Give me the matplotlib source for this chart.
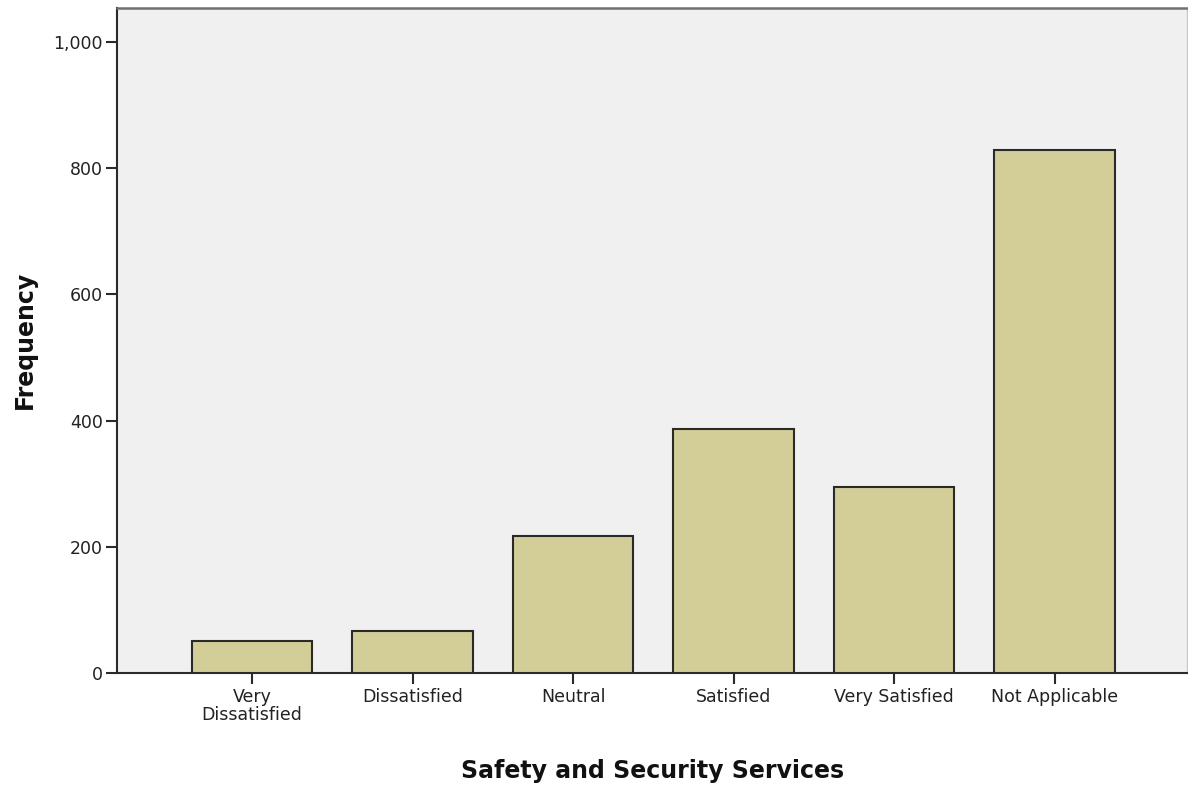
import matplotlib
matplotlib.use("Agg")
import matplotlib.pyplot as plt
from matplotlib.ticker import FuncFormatter

categories = ["Very\nDissatisfied", "Dissatisfied", "Neutral", "Satisfied",
              "Very Satisfied", "Not Applicable"]
frequencies = [50, 67, 217, 387, 295, 829]
y_ticks = [0, 200, 400, 600, 800, 1000]

plt.rcParams['font.family'] = ['DejaVu Sans']

fig = plt.figure(figsize=(11.88, 7.91), dpi=100)
ax = fig.add_axes([117/1188, 1 - 673/791, (1187-117)/1188, (673-8)/791])
ax.set_facecolor('#F0F0F0')

x = list(range(len(categories)))
ax.bar(x, frequencies, width=0.75, color='#D3CE97', edgecolor='#2a2a2a',
       linewidth=1.5, zorder=3)

ax.set_xlim(-0.841, 5.825)
ax.set_ylim(0, 1054)
ax.set_yticks(y_ticks)
ax.yaxis.set_major_formatter(FuncFormatter(lambda v, p: f"{int(v):,}"))
ax.set_xticks(x)
ax.set_xticklabels(categories, fontsize=12.5, linespacing=0.95)
ax.tick_params(axis='both', direction='out', length=8, width=1.5, color='#2a2a2a',
               labelsize=12.5, labelcolor='#222222')
ax.tick_params(axis='x', pad=3)
ax.tick_params(axis='y', pad=2)

ax.spines['left'].set_color('#2a2a2a')
ax.spines['left'].set_linewidth(1.5)
ax.spines['bottom'].set_color('#2a2a2a')
ax.spines['bottom'].set_linewidth(1.5)
ax.spines['top'].set_color('#707070')
ax.spines['top'].set_linewidth(1.8)
ax.spines['right'].set_color('#c8c8c8')
ax.spines['right'].set_linewidth(1.0)

fig.text(25/1188, 1 - 340/791, "Frequency", rotation=90, fontsize=17,
         fontweight='bold', ha='center', va='center', color='#111111')
fig.text(653/1188, 1 - 771/791, "Safety and Security Services", fontsize=17,
         fontweight='bold', ha='center', va='center', color='#111111')

fig.savefig("out.png", dpi=100)
